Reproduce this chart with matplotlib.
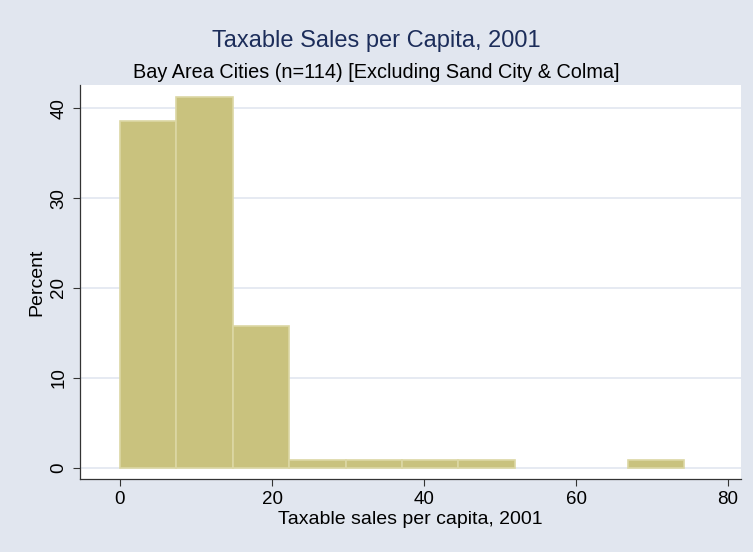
import matplotlib.pyplot as plt
import numpy as np

plt.rcParams['font.family'] = ['Liberation Sans', 'DejaVu Sans']

# histogram of taxable sales per capita (thousands), 10 bins
bin_width = 7.42
n_bins = 10
bin_edges = np.arange(n_bins + 1) * bin_width
city_counts = [44, 47, 18, 1, 1, 1, 1, 0, 0, 1]
n_cities = 114
percent = np.array([100 * c / n_cities for c in city_counts])

x_ticks = [0, 20, 40, 60, 80]
y_ticks = [0, 10, 20, 30, 40]

bg = '#E1E6EF'
fig = plt.figure(figsize=(7.53, 5.52), dpi=100, facecolor=bg)
ax = fig.add_axes([80 / 753, 1 - 479 / 552, 661 / 753, 394 / 552])
ax.set_facecolor('white')

# empty bins are left out so no outline is drawn along the baseline
keep = percent > 0
ax.bar(bin_edges[:-1][keep], percent[keep], width=bin_width, align='edge',
       color='#C9C27E', edgecolor='#DCD7A4', linewidth=1.2, zorder=3)

ax.set_xlim(-5.26, 81.7)
ax.set_ylim(-1.28, 42.6)
ax.set_xticks(x_ticks)
ax.set_yticks(y_ticks)
ax.grid(axis='y', color='#E1E6F0', linewidth=1.2, zorder=0)
ax.tick_params(labelsize=13.5, length=5, width=0.8, color='#333333', pad=4)
plt.setp(ax.get_yticklabels(), rotation=90, va='center')

for side in ['top', 'right']:
    ax.spines[side].set_visible(False)
for side in ['left', 'bottom']:
    ax.spines[side].set_color('#333333')
    ax.spines[side].set_linewidth(0.9)

ax.set_xlabel('Taxable sales per capita, 2001', fontsize=14, labelpad=2)
ax.set_ylabel('Percent', fontsize=14, labelpad=4)

fig.text(0.5, 1 - 41 / 552, 'Taxable Sales per Capita, 2001', ha='center',
         va='center', fontsize=17, color='#1C2D5A')
fig.text(0.5, 1 - 73 / 552, 'Bay Area Cities (n=114) [Excluding Sand City & Colma]',
         ha='center', va='center', fontsize=14.3, color='black')

fig.savefig('out.png', dpi=100, facecolor=bg)
